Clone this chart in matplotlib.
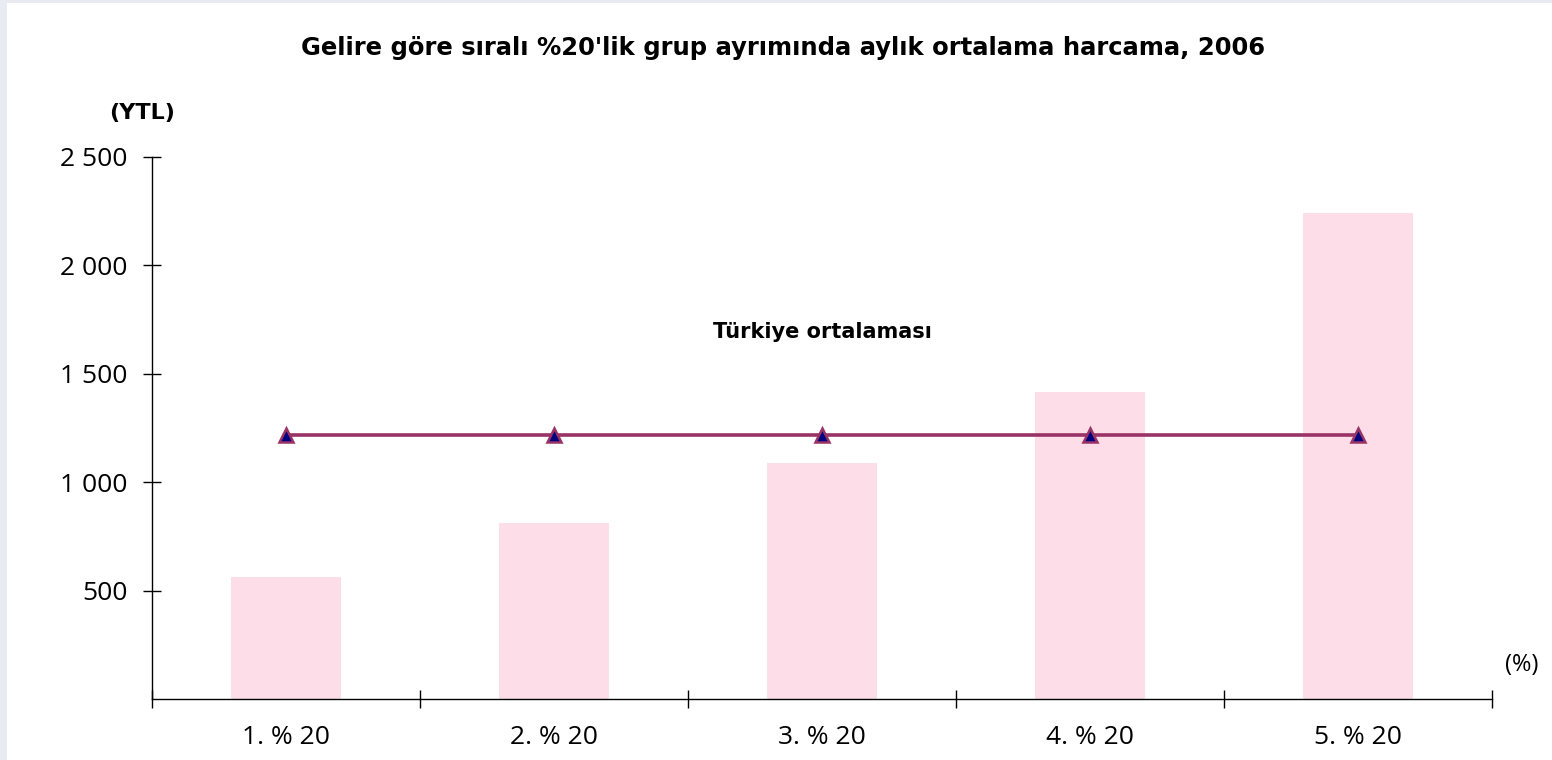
import matplotlib.pyplot as plt
from matplotlib.patches import Rectangle

groups = ["1. % 20", "2. % 20", "3. % 20", "4. % 20", "5. % 20"]
harcama = [563, 812, 1089, 1416, 2242]
turkiye_ort = [1218, 1218, 1218, 1218, 1218]
yticks = [500, 1000, 1500, 2000, 2500]
ytick_labels = ["500", "1 000", "1 500", "2 000", "2 500"]

tick_font = "Open Sans"

fig = plt.figure(figsize=(15.52, 7.6), dpi=100, facecolor="#e8ecf2")
# white page area (image is cropped from a page with a grey frame)
fig.patches.append(Rectangle((7 / 1552, 0), 1, 1 - 3 / 760, transform=fig.transFigure,
                             facecolor="white", edgecolor="none", zorder=-10))

ax = fig.add_axes([152 / 1552, 1 - 699 / 760, 1340 / 1552, 542 / 760])
ax.set_facecolor("white")

x = list(range(len(groups)))
ax.bar(x, harcama, width=0.41, color="#fddde8", zorder=1)
ax.plot(x, turkiye_ort, color="#993366", linewidth=2.6, marker="^", markersize=10,
        markerfacecolor="#000080", markeredgecolor="#993366", markeredgewidth=1.8, zorder=3)

ax.set_xlim(-0.5, len(groups) - 0.5)
ax.set_ylim(0, 2500)
ax.set_yticks(yticks)
ax.set_yticklabels(ytick_labels, fontsize=19, family=tick_font)
ax.set_xticks([i - 0.5 for i in range(len(groups) + 1)])
ax.set_xticklabels([])
ax.set_xticks(x, minor=True)
ax.set_xticklabels(groups, minor=True, fontsize=19, family=tick_font)
ax.tick_params(axis="x", which="minor", length=0, pad=19)
ax.tick_params(axis="x", which="major", direction="inout", length=13, width=1)
ax.tick_params(axis="y", direction="inout", length=13, width=1, pad=11)

for s in ["top", "right"]:
    ax.spines[s].set_visible(False)
for s in ["left", "bottom"]:
    ax.spines[s].set_linewidth(1.0)

ax.text(2, 1693, "Türkiye ortalaması", ha="center", va="center", fontsize=15, fontweight="bold")
fig.text(142 / 1552, 1 - 113 / 760, "(YTL)", ha="center", va="center", fontsize=16, fontweight="bold")
fig.text(1522 / 1552, 1 - 665 / 760, "(%)", ha="center", va="center", fontsize=17, family=tick_font)
fig.text(783 / 1552, 1 - 48 / 760, "Gelire göre sıralı %20'lik grup ayrımında aylık ortalama harcama, 2006",
         ha="center", va="center", fontsize=17.5, fontweight="bold")

fig.savefig("out.png", dpi=100, facecolor=fig.get_facecolor())
